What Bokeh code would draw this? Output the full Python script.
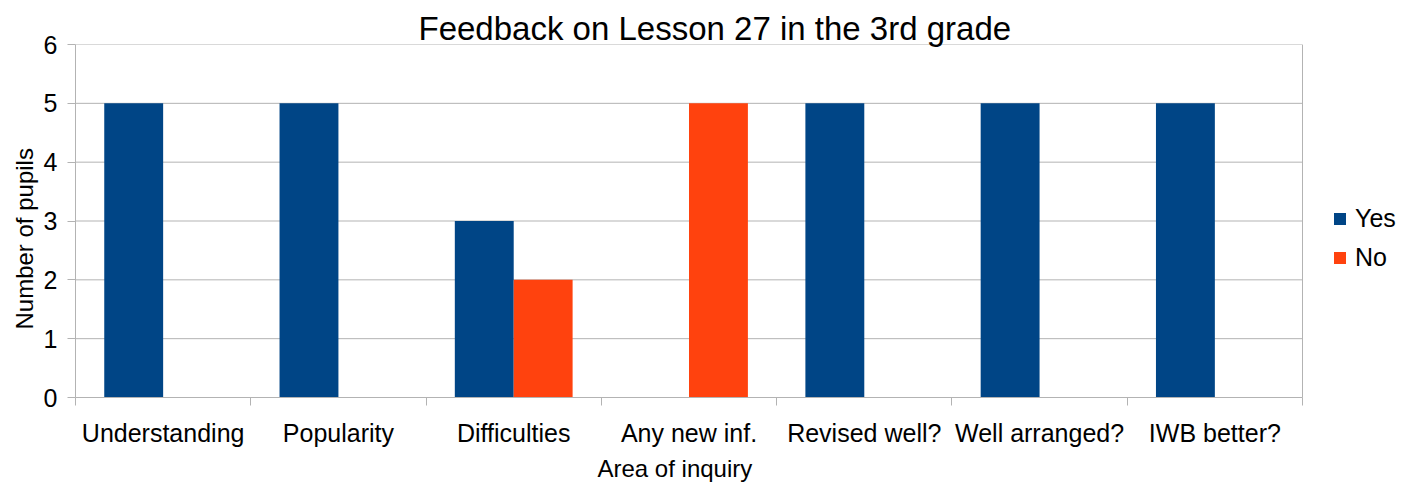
from bokeh.plotting import figure
from bokeh.models import Range1d, FixedTicker, Legend, LegendItem, Span, Title
from bokeh.embed import file_html
from bokeh.resources import INLINE

categories = ["Understanding", "Popularity", "Difficulties", "Any new inf.",
              "Revised well?", "Well arranged?", "IWB better?"]
yes_values = [5, 5, 3, 0, 5, 5, 5]
no_values = [0, 0, 2, 5, 0, 0, 0]
y_ticks = [0, 1, 2, 3, 4, 5, 6]

FONT = "Liberation Sans"
YES_C = "#004586"
NO_C = "#ff420e"
GRID = "#b3b3b3"

n = len(categories)
centers = [i + 0.5 for i in range(n)]
bar_w = 0.336

W, H = 1415, 485
LEFT, TOP, BOTTOM = 75, 44, 87
PLOT_RIGHT = 1302  # right edge of the plotting wall in pixels
x_end = n * (W - LEFT) / (PLOT_RIGHT - LEFT)

p = figure(width=W, height=H, output_backend="svg", toolbar_location=None,
           x_range=Range1d(0, x_end), y_range=Range1d(0, 6),
           min_border_left=LEFT, min_border_right=0, min_border_top=TOP,
           min_border_bottom=BOTTOM)

# horizontal grid lines limited to the plotting wall
p.segment(x0=[0] * len(y_ticks), x1=[n] * len(y_ticks), y0=y_ticks, y1=y_ticks,
          line_color=GRID, line_width=1)
p.add_layout(Span(location=n, dimension="height", line_color=GRID, line_width=1))

r_yes = p.vbar(x=[c - bar_w / 2 for c in centers], top=yes_values, width=bar_w,
               color=YES_C, line_color=None)
r_no = p.vbar(x=[c + bar_w / 2 for c in centers], top=no_values, width=bar_w,
              color=NO_C, line_color=None)

# x axis
p.xaxis.bounds = (0, n)
p.xaxis.ticker = FixedTicker(ticks=centers, minor_ticks=list(range(n + 1)))
p.xaxis.major_label_overrides = {c: lab for c, lab in zip(centers, categories)}
p.xaxis.major_tick_out = 0
p.xaxis.major_tick_in = 0
p.xaxis.minor_tick_out = 8
p.xaxis.minor_tick_in = 0
p.xaxis.minor_tick_line_color = GRID
p.xaxis.axis_line_color = GRID
p.xaxis.major_label_standoff = 13

# y axis
p.yaxis.ticker = FixedTicker(ticks=y_ticks)
p.yaxis.minor_tick_line_color = None
p.yaxis.major_tick_out = 8
p.yaxis.major_tick_in = 0
p.yaxis.major_tick_line_color = GRID
p.yaxis.axis_line_color = GRID
p.yaxis.major_label_standoff = 10

for ax in (p.xaxis, p.yaxis):
    ax.major_label_text_font = FONT
    ax.major_label_text_font_size = "25px"
    ax.major_label_text_color = "black"

p.xgrid.grid_line_color = None
p.ygrid.grid_line_color = None
p.outline_line_color = None

# axis titles (placed as titles so they can sit off-centre like the reference)
x_title = Title(text="Area of inquiry", align="left", offset=522, standoff=7,
                text_font=FONT, text_font_size="24px", text_font_style="normal",
                text_color="black")
p.add_layout(x_title, "below")
y_title = Title(text="Number of pupils", align="left", offset=68, standoff=5,
                text_font=FONT, text_font_size="24px", text_font_style="normal",
                text_color="black")
p.add_layout(y_title, "left")

p.title.text = "Feedback on Lesson 27 in the 3rd grade"
p.title.align = "left"
p.title.offset = 343
p.title.standoff = -4
p.title.text_font = FONT
p.title.text_font_size = "33px"
p.title.text_font_style = "normal"
p.title.text_color = "black"

legend = Legend(items=[LegendItem(label="Yes", renderers=[r_yes]),
                       LegendItem(label="No", renderers=[r_no])],
                location=(1257, 125), orientation="vertical",
                glyph_width=15, glyph_height=15, label_standoff=8,
                label_text_font=FONT, label_text_font_size="25px",
                label_text_color="black",
                label_height=30, spacing=9, padding=0, margin=0,
                border_line_alpha=0, background_fill_alpha=0)
p.add_layout(legend)

open("out.html", "w").write(file_html(p, INLINE))
